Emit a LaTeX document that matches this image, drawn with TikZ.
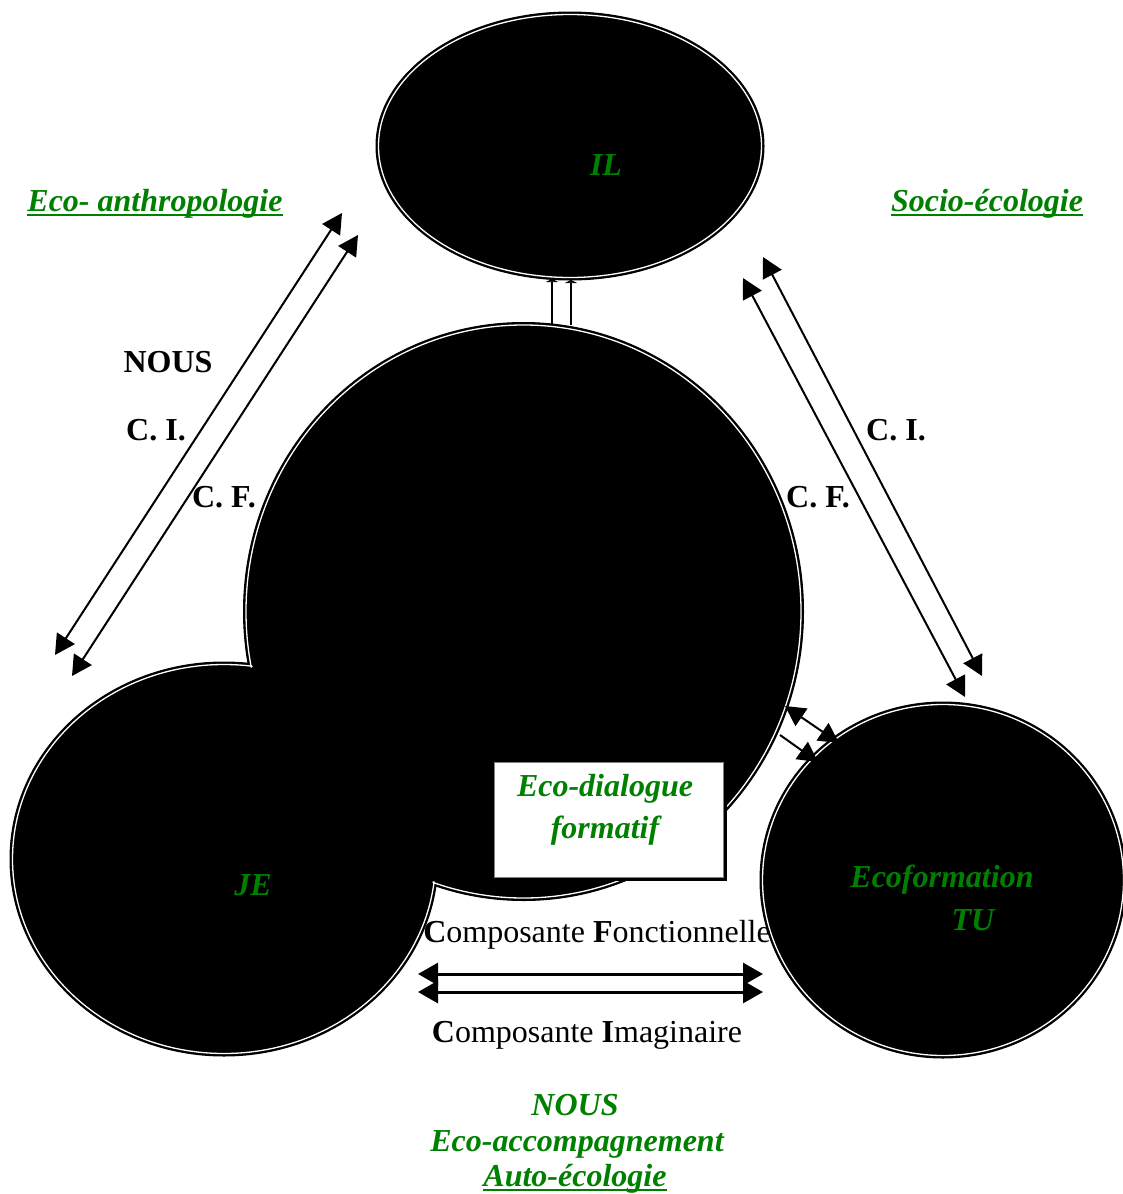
\documentclass[tikz,border=0pt]{standalone}
\usepackage{fontspec}
\setmainfont{Liberation Serif}
\usetikzlibrary{arrows.meta}
\definecolor{dgreen}{RGB}{0,128,0}
\newcommand\myul[1]{\setbox0\hbox{#1}\rlap{\rule[-4pt]{\wd0}{1.8pt}}\box0}
\tikzset{
  blk/.style={fill=black, draw=black, line width=1pt},
  wline/.style={draw=white, line width=1.3pt},
  arr/.style={line width=2pt, {Triangle[length=20pt,width=21pt]}-{Triangle[length=20pt,width=21pt]}},
  arrone/.style={line width=2pt, -{Triangle[length=20pt,width=21pt]}},
  barr/.style={line width=3pt, {Triangle[length=20pt,width=22pt]}-{Triangle[length=20pt,width=22pt]}},
  blbl/.style={inner sep=0pt, font=\fontsize{32}{38}\selectfont\bfseries},
  rlbl/.style={inner sep=0pt, font=\fontsize{32}{38}\selectfont},
  glbl/.style={inner sep=0pt, text=dgreen, font=\fontsize{32}{38}\selectfont\bfseries\itshape},
}
\begin{document}
\begin{tikzpicture}[x=1pt,y=-1pt]
\useasboundingbox (0,0) rectangle (1122,1194);
\fill[white] (0,0) rectangle (1122,1194);
% centres
\coordinate (IL) at (570,146);
\coordinate (C) at (523.5,611.5);
\coordinate (JE) at (224,859);
\coordinate (TU) at (943,880);
% black shapes
\path[blk] (IL) ellipse [x radius=194pt, y radius=134pt];
\path[blk] (C) ellipse [x radius=280pt, y radius=289pt];
\path[blk] (JE) ellipse [x radius=214pt, y radius=197pt];
\path[blk] (TU) ellipse [x radius=183pt, y radius=178pt];
% inner white lines
\path[wline] (IL) ellipse [x radius=191.5pt, y radius=131.5pt];
\path[wline] (C) ellipse [x radius=277.5pt, y radius=286.5pt];
\path[wline] (JE) ellipse [x radius=211.5pt, y radius=194.5pt];
\path[wline] (TU) ellipse [x radius=180.5pt, y radius=175.5pt];
% union: cover inner lines
\fill[black] (C) ellipse [x radius=276pt, y radius=285pt];
\fill[black] (JE) ellipse [x radius=210pt, y radius=193pt];
% IL - centre links
\coordinate (l1a) at (552,279);
\coordinate (l1b) at (552,324);
\coordinate (l2a) at (571,280);
\coordinate (l2b) at (571,325);
\draw[line width=2pt, -{Triangle[length=3pt,width=12pt]}] (l1b) -- (l1a);
\draw[line width=2pt, -{Triangle[length=3pt,width=12pt]}] (l2b) -- (l2a);
% box
\fill[black] (498,766) rectangle (727,881);
\node[draw=gray, fill=white, line width=1pt, minimum width=229pt, minimum height=115pt, inner sep=0pt] (box) at (608.5,819.5) {};
\node[glbl] (ed1) at (605,789) {Eco-dialogue};
\node[glbl] (ed2) at (605,831) {formatif};
% left arrows
\coordinate (a1u) at (342,213);
\coordinate (a1d) at (55,655);
\coordinate (a2u) at (358,235);
\coordinate (a2d) at (72,676);
\draw[arr] (a1d) -- (a1u);
\draw[arr] (a2d) -- (a2u);
% right arrows
\coordinate (a3u) at (763,257);
\coordinate (a3d) at (982,676);
\coordinate (a4u) at (743,278);
\coordinate (a4d) at (965,697);
\draw[arr] (a3u) -- (a3d);
\draw[arr] (a4u) -- (a4d);
% centre - TU arrows
\coordinate (a5a) at (785,706);
\coordinate (a5b) at (839,743);
\coordinate (a6a) at (780,735);
\coordinate (a6b) at (818,762);
\draw[arr] (a5a) -- (a5b);
\draw[arrone] (a6a) -- (a6b);
% bottom arrows
\coordinate (b1l) at (418,974);
\coordinate (b1r) at (763,974);
\coordinate (b2l) at (418,992);
\coordinate (b2r) at (763,992);
\draw[barr] (b1l) -- (b1r);
\draw[barr] (b2l) -- (b2r);
% labels
\node[glbl] (tIL) at (606,165) {IL};
\node[glbl] (tJE) at (253,885) {JE};
\node[glbl] (tEco) at (942,880) {Ecoformation};
\node[glbl] (tTU) at (973,920) {TU};
\node[glbl] (tEA) at (155,204) {\myul{Eco- anthropologie}};
\node[glbl] (tSE) at (987,204) {\myul{Socio-écologie}};
\node[blbl] (tN) at (168,362) {NOUS};
\node[blbl] (tCI1) at (156,430) {C. I.};
\node[blbl] (tCF1) at (224,497) {C. F.};
\node[blbl] (tCI2) at (896,430) {C. I.};
\node[blbl] (tCF2) at (818,497) {C. F.};
\node[rlbl] (tCompF) at (597,935) {\textbf{C}omposante \textbf{F}onctionnelle};
\node[rlbl] (tCompI) at (587,1035) {\textbf{C}omposante \textbf{I}maginaire};
\node[glbl] (tN2) at (575,1105) {NOUS};
\node[glbl] (tEAcc) at (577,1144) {Eco-accompagnement};
\node[glbl] (tAE) at (575,1179) {\myul{Auto-écologie}};
\end{tikzpicture}
\end{document}
